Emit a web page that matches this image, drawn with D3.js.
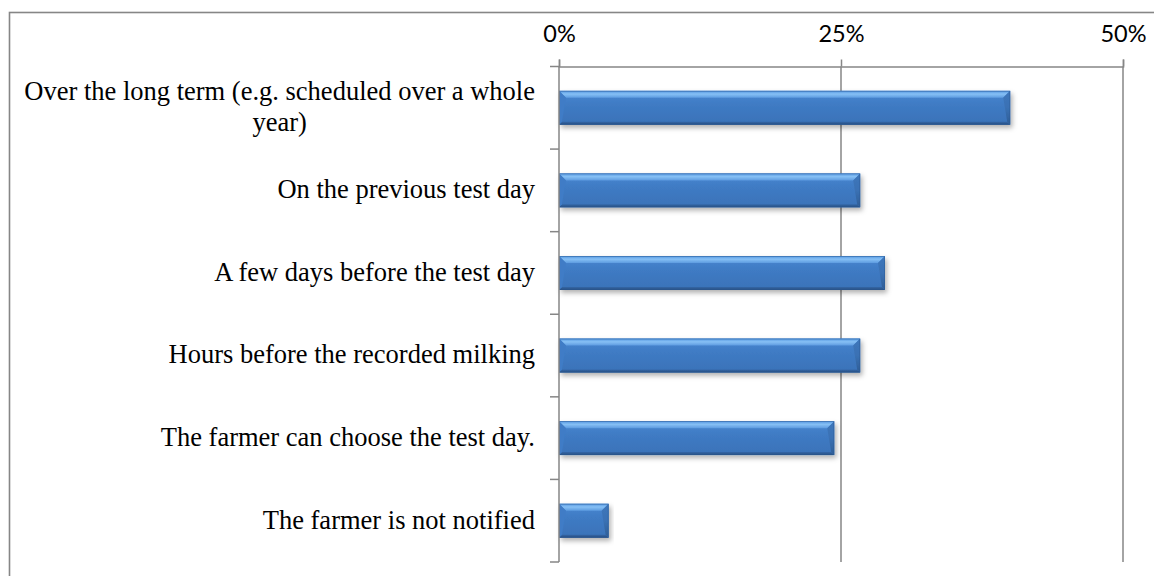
<!DOCTYPE html>
<html>
<head>
<meta charset="utf-8">
<script src="https://cdn.jsdelivr.net/npm/d3@7"></script>
<style>
  html, body { margin: 0; padding: 0; background: #fff; }
  svg { display: block; }
</style>
</head>
<body>
<svg id="chart" width="1154" height="576"></svg>
<script>
// Survey answers: when the farmer is told about the milk recording test day
const categories = [
  "Over the long term (e.g. scheduled over a whole year)",
  "On the previous test day",
  "A few days before the test day",
  "Hours before the recorded milking",
  "The farmer can choose the test day.",
  "The farmer is not notified"
];
const shares = [40.0, 26.7, 28.9, 26.7, 24.4, 4.4]; // percent of respondents
const tickValues = [0, 25, 50];

const svg = d3.select("#chart");
const W = 1154, H = 576;
const axisY = 66.5, plotBottom = 562;
const x0 = 559, x1 = 1123;
const gray = "#868686";

const x = d3.scaleLinear().domain([0, 50]).range([x0, x1]);
const y = d3.scaleBand().domain(categories).range([axisY, plotBottom])
  .paddingInner(0.59).paddingOuter(0.295);

// defs: bar gradients and drop shadow
const defs = svg.append("defs");
const fShadow = defs.append("filter").attr("id", "shadow")
  .attr("x", "-5%").attr("y", "-30%").attr("width", "115%").attr("height", "180%");
fShadow.append("feDropShadow").attr("dx", 2).attr("dy", 3)
  .attr("stdDeviation", 2.6).attr("flood-color", "#000").attr("flood-opacity", 0.3);

function vGrad(id, stops) {
  const g = defs.append("linearGradient").attr("id", id)
    .attr("x1", 0).attr("y1", 0).attr("x2", 0).attr("y2", 1);
  stops.forEach(([o, c]) => g.append("stop").attr("offset", o).attr("stop-color", c));
}
vGrad("face", [["0", "#4a88d2"], ["0.4", "#3f7bc4"], ["1", "#3a72b8"]]);
vGrad("topBevel", [["0", "#5496e0"], ["0.45", "#86c0f5"], ["1", "#5d9be0"]]);
vGrad("botBevel", [["0", "#3468a8"], ["1", "#274e80"]]);
vGrad("sideBevel", [["0", "#3d76bb"], ["0.5", "#3a71b4"], ["1", "#2f5d95"]]);

// outer chart frame
svg.append("rect")
  .attr("x", 9.5).attr("y", 12.5).attr("width", W + 20).attr("height", H + 20)
  .attr("fill", "none").attr("stroke", gray).attr("stroke-width", 1.6);

// vertical gridlines
svg.append("g").selectAll("line")
  .data(tickValues.filter(d => d > 0))
  .join("line")
  .attr("x1", d => x(d)).attr("x2", d => x(d))
  .attr("y1", axisY).attr("y2", plotBottom)
  .attr("stroke", gray).attr("stroke-width", 1.5);

// bars with a bevelled look
const bev = 7;
const bars = svg.append("g").selectAll("g")
  .data(categories.map((c, i) => ({ c, v: shares[i] })))
  .join("g")
  .attr("filter", "url(#shadow)");

bars.each(function(d) {
  const g = d3.select(this);
  const bx0 = x(0), bx1 = x(d.v);
  const by0 = y(d.c), by1 = y(d.c) + y.bandwidth();
  const b = Math.min(bev, (bx1 - bx0) / 2);
  const poly = pts => pts.map(p => p.join(",")).join(" ");
  g.append("rect").attr("x", bx0).attr("y", by0)
    .attr("width", bx1 - bx0).attr("height", by1 - by0).attr("fill", "url(#face)");
  // top face
  g.append("polygon").attr("points", poly([[bx0, by0], [bx1, by0], [bx1 - b, by0 + b], [bx0 + b, by0 + b]]))
    .attr("fill", "url(#topBevel)");
  // bottom face
  g.append("polygon").attr("points", poly([[bx0, by1], [bx1, by1], [bx1 - 3, by1 - 3], [bx0 + 3, by1 - 3]]))
    .attr("fill", "url(#botBevel)");
  // right face
  g.append("polygon").attr("points", poly([[bx1, by0], [bx1, by1], [bx1 - 3, by1 - 3], [bx1 - b, by0 + b]]))
    .attr("fill", "url(#sideBevel)");
  // left face
  g.append("polygon").attr("points", poly([[bx0, by0], [bx0, by1], [bx0 + 3, by1 - 3], [bx0 + b, by0 + b]]))
    .attr("fill", "#3f7cc6");
  g.append("rect").attr("x", bx0 + 0.4).attr("y", by0 + 0.4)
    .attr("width", bx1 - bx0 - 0.8).attr("height", by1 - by0 - 0.8)
    .attr("fill", "none").attr("stroke", "#2c5a94").attr("stroke-width", 0.8).attr("stroke-opacity", 0.6);
});

// top value axis
const xAxis = d3.axisTop(x).tickValues(tickValues)
  .tickFormat(d => d + "%").tickSize(7).tickPadding(18);
const gx = svg.append("g").attr("transform", `translate(0,${axisY})`).call(xAxis);
gx.select(".domain").attr("stroke", gray).attr("stroke-width", 1.5);
gx.selectAll(".tick line").attr("stroke", gray).attr("stroke-width", 1.5);
gx.selectAll(".tick text")
  .attr("font-family", "Lato, 'Open Sans', sans-serif")
  .attr("font-size", 23.5).attr("fill", "#000");

// category axis: line at 0% with ticks between categories
const gy = svg.append("g");
gy.append("line").attr("x1", x0).attr("x2", x0).attr("y1", axisY).attr("y2", plotBottom)
  .attr("stroke", gray).attr("stroke-width", 1.5);
const boundaries = categories.map(c => y(c) - y.step() * y.paddingInner() / 2);
boundaries.push(plotBottom);
boundaries[0] = axisY;
gy.selectAll(".ctick").data(boundaries).join("line").attr("class", "ctick")
  .attr("x1", x0 - 9).attr("x2", x0).attr("y1", d => d).attr("y2", d => d)
  .attr("stroke", gray).attr("stroke-width", 1.5);

// category labels, wrapped and centred within a right-aligned block
const fs = 26.5, lineH = 31.5, labelRight = 535, maxW = 525;
const labels = svg.append("g")
  .attr("font-family", "'Liberation Serif', 'Times New Roman', serif")
  .attr("font-size", fs).attr("fill", "#000");

categories.forEach(c => {
  const probe = labels.append("text");
  const words = c.split(" ");
  const lines = [];
  let cur = [];
  words.forEach(w => {
    const trial = cur.concat(w).join(" ");
    probe.text(trial);
    if (probe.node().getComputedTextLength() > maxW && cur.length) {
      lines.push(cur.join(" "));
      cur = [w];
    } else {
      cur.push(w);
    }
  });
  lines.push(cur.join(" "));
  const widths = lines.map(l => { probe.text(l); return probe.node().getComputedTextLength(); });
  probe.remove();
  const blockW = d3.max(widths);
  const cx = labelRight - blockW / 2;
  const mid = y(c) + y.bandwidth() / 2;
  const firstBase = mid - (lines.length - 1) * lineH / 2 + fs * 0.3;
  lines.forEach((l, i) => {
    labels.append("text").attr("x", cx).attr("y", firstBase + i * lineH)
      .attr("text-anchor", "middle").text(l);
  });
});
</script>
</body>
</html>
